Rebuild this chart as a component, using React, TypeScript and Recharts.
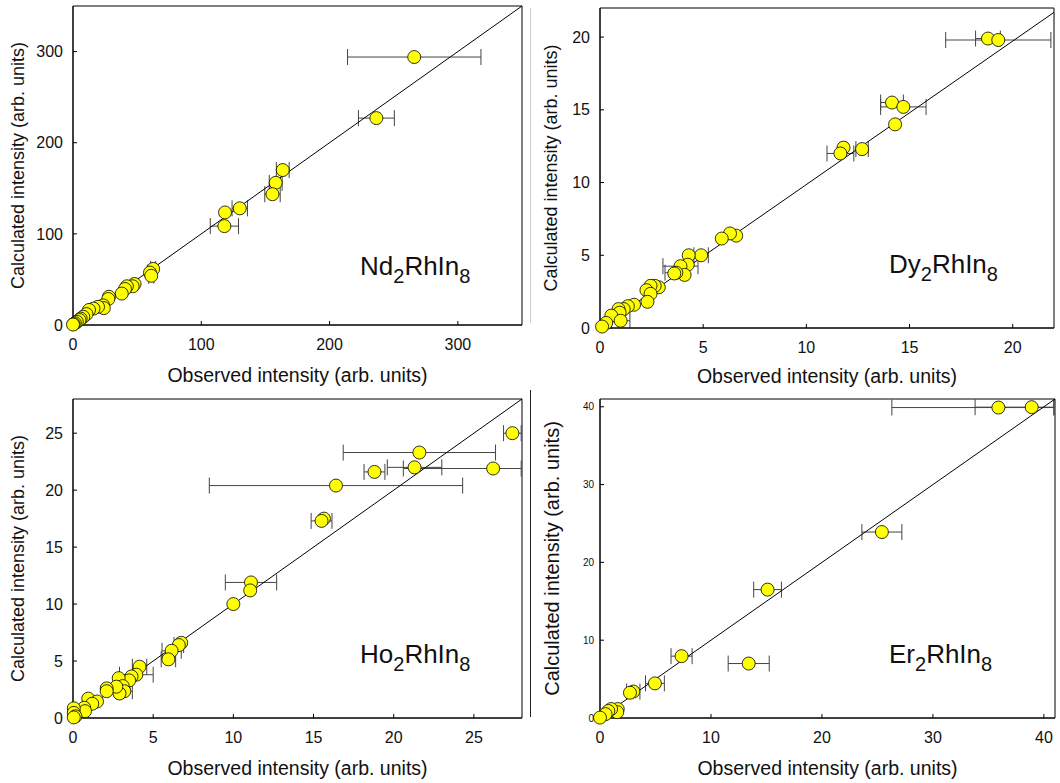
import { ScatterChart, Scatter, XAxis, YAxis, ErrorBar, ReferenceLine, ReferenceArea } from 'recharts'

const FONT = '"Liberation Sans", Arial, Helvetica, sans-serif'

// Nd2RhIn8 : observed, calculated, error on observed
const ndObs = [266, 236.5, 163.5, 158, 155.5, 130, 118.5, 118, 62.5, 60, 61, 48, 46.5, 42, 40.5, 38, 28, 27.5, 23.5, 24, 19.5, 16, 12.5, 10.5, 8, 6, 5, 3, 1.5, 0.5, 0]
const ndCalc = [294, 227, 170, 156, 143.5, 128, 123.5, 108.5, 61.5, 57.5, 54, 45, 42.5, 42.5, 39.5, 34.5, 31, 28.5, 21.5, 18.5, 20, 18, 16.5, 12, 9, 7, 5.5, 3.5, 2, 1, 0.5]
const ndErr: (number | number[])[] = [52, 14, 5, 5, 6, 6, 0, 11, 2, 2, 2, 0, 0, 0, 0, 0, 0, 0, 0, 0, 0, 0, 0, 0, 0, 0, 0, 0, 0, 0, 0]

// Dy2RhIn8
const dyObs = [18.8, 19.3, 14.15, 14.7, 14.3, 11.8, 11.65, 12.7, 6.6, 6.3, 5.9, 4.9, 4.3, 4.25, 3.9, 4.1, 3.7, 3.6, 2.85, 2.65, 2.45, 2.25, 2.45, 2.3, 1.65, 1.35, 1.15, 0.9, 0.95, 0.55, 1.0, 0.3, 0.1]
const dyCalc = [19.9, 19.8, 15.5, 15.2, 14.0, 12.4, 12.0, 12.3, 6.35, 6.5, 6.15, 5.0, 5.0, 4.35, 4.25, 3.65, 3.8, 3.75, 2.8, 2.9, 2.9, 2.6, 2.35, 1.8, 1.6, 1.5, 1.3, 1.3, 1.05, 0.85, 0.5, 0.35, 0.1]
const dyErr: (number | number[])[] = [0.6, 2.55, 0.55, 1.1, 0, 0, 0.65, 0.3, 0, 0, 0, 0.35, 0, 0, 0.85, 0, 0.55, 0, 0, 0, 0, 0, 0, 0, 0, 0, 0, 0, 0, 0, 0.45, 0, 0]

// Ho2RhIn8
const hoObs = [27.4, 21.6, 18.8, 21.3, 26.2, 16.4, 15.65, 15.5, 11.1, 11.05, 10.0, 6.75, 6.6, 6.15, 5.95, 4.15, 3.95, 3.65, 3.5, 2.85, 3.1, 3.2, 2.9, 2.7, 2.1, 2.1, 0.95, 1.5, 1.2, 0.7, 0.75, 0.05, 0.05, 0.15, 0.05]
const hoCalc = [25.0, 23.3, 21.6, 22.0, 21.9, 20.4, 17.5, 17.3, 11.9, 11.2, 10.0, 6.6, 6.4, 5.9, 5.15, 4.5, 3.8, 3.65, 3.3, 3.5, 2.8, 2.35, 2.15, 2.75, 2.6, 2.35, 1.7, 1.45, 1.25, 0.9, 0.6, 0.85, 0.45, 0.15, 0.05]
const hoErr: (number | number[])[] = [0.55, 4.75, 0.65, 1.7, [5.6, 1.75], 7.9, 0, 0.65, 1.6, 0, 0, 0, 0.3, 0.6, 0.45, 0.45, 1.05, 0, 0, 0, 0.45, 0.5, 0, 0, 0, 0, 0, 0, 0, 0, 0, 0, 0, 0, 0]

// Er2RhIn8
const erObs = [35.9, 38.9, 25.4, 15.1, 13.4, 7.35, 4.95, 3.0, 2.7, 1.6, 1.55, 1.0, 0.75, 0.5, 0]
const erCalc = [39.9, 39.95, 23.9, 16.5, 7.0, 7.95, 4.45, 3.4, 3.25, 1.15, 0.75, 1.15, 0.9, 0.5, 0.05]
const erErr: (number | number[])[] = [[9.6, 5.0], [5.1, 2.0], 1.8, 1.25, 1.85, 0.95, 0.85, 0.6, 0, 0, 0, 0, 0, 0, 0]

type Pt = { x: number; y: number; e: number | number[] }

const toPoints = (obs: number[], calc: number[], err: (number | number[])[]): Pt[] =>
  obs.map((x, i) => ({ x, y: calc[i], e: err[i] }))

const hasErr = (p: Pt) => (Array.isArray(p.e) ? p.e[0] + p.e[1] : p.e) > 0

const dot = (p: any) => <circle cx={p.cx} cy={p.cy} r={6.5} fill="#ffff00" stroke="#000" strokeWidth={0.8} />
const none = () => <g />

function Panel(props: {
  data: Pt[]
  max: number
  ticks: number[]
  lineEnd: number
  left: number
  top: number
  height: number
  margin: { top: number; right: number; left: number; bottom: number }
  yWidth: number
  xHeight: number
  xTitleOffset: number
  yTitleOffset: number
  yTitleSize: number
  yTickSize: number
  yTickMargin: number
}) {
  const p = props
  const bars = p.data.filter(hasErr)
  return (
    <div style={{ position: 'absolute', left: p.left, top: p.top }}>
      <ScatterChart width={530} height={p.height} margin={p.margin} style={{ fontFamily: FONT }}>
        <XAxis
          type="number"
          dataKey="x"
          domain={[0, p.max]}
          ticks={p.ticks}
          height={p.xHeight}
          tickSize={-4}
          tickMargin={18}
          stroke="#000"
          tick={{ fill: '#111', fontSize: 16 }}
          label={{ value: 'Observed intensity (arb. units)', position: 'insideBottom', offset: p.xTitleOffset, style: { fontSize: 19.5, fill: '#111' } }}
        />
        <YAxis
          type="number"
          dataKey="y"
          domain={[0, p.max]}
          ticks={p.ticks}
          width={p.yWidth}
          tickSize={-4}
          tickMargin={p.yTickMargin}
          stroke="#000"
          tick={{ fill: '#111', fontSize: p.yTickSize }}
          label={{ value: 'Calculated intensity (arb. units)', angle: -90, position: 'insideLeft', offset: p.yTitleOffset, style: { fontSize: p.yTitleSize, fill: '#111', textAnchor: 'middle' } }}
        />
        <XAxis xAxisId="top" orientation="top" type="number" domain={[0, p.max]} allowDataOverflow ticks={p.ticks} height={0} tickSize={-4} tick={false} stroke="#000" />
        <YAxis yAxisId="right" orientation="right" type="number" domain={[0, p.max]} allowDataOverflow ticks={p.ticks} width={0} tickSize={-4} tick={false} stroke="#000" />
        <ReferenceArea x1={0} x2={p.max} y1={0} y2={p.max} fill="none" fillOpacity={0} stroke="#000" strokeWidth={1} />
        <Scatter data={bars} shape={none} isAnimationActive={false}>
          <ErrorBar dataKey="e" direction="x" width={8} stroke="#444" strokeWidth={1} />
        </Scatter>
        <Scatter data={p.data} shape={dot} isAnimationActive={false} />
        <ReferenceLine segment={[{ x: 0, y: 0 }, { x: p.max, y: p.lineEnd }]} stroke="#000" strokeWidth={1} />
      </ScatterChart>
    </div>
  )
}

function Compound(props: { x: number; y: number; a: string }) {
  return (
    <text x={props.x} y={props.y} fontSize={26} fill="#111" fontFamily={FONT}>
      {props.a}
      <tspan fontSize={20} dy={8}>2</tspan>
      <tspan dy={-8}>RhIn</tspan>
      <tspan fontSize={20} dy={8}>8</tspan>
    </text>
  )
}

export default function App() {
  return (
    <div style={{ position: 'absolute', left: 0, top: 0, width: 1060, height: 783, background: '#fff', overflow: 'hidden' }}>
      <Panel
        data={toPoints(ndObs, ndCalc, ndErr)}
        max={350}
        ticks={[0, 100, 200, 300]}
        lineEnd={350}
        left={0}
        top={0}
        height={390}
        margin={{ top: 6, right: 8, left: 0, bottom: 0 }}
        yWidth={73}
        xHeight={65}
        xTitleOffset={8}
        yTitleOffset={18}
        yTitleSize={18}
        yTickSize={16}
        yTickMargin={14}
      />
      <Panel
        data={toPoints(dyObs, dyCalc, dyErr)}
        max={22}
        ticks={[0, 5, 10, 15, 20]}
        lineEnd={21.7}
        left={530}
        top={0}
        height={390}
        margin={{ top: 8, right: 6, left: 0, bottom: 0 }}
        yWidth={70}
        xHeight={62}
        xTitleOffset={7}
        yTitleOffset={21}
        yTitleSize={18}
        yTickSize={16}
        yTickMargin={14}
      />
      <Panel
        data={toPoints(hoObs, hoCalc, hoErr)}
        max={28}
        ticks={[0, 5, 10, 15, 20, 25]}
        lineEnd={28}
        left={0}
        top={390}
        height={393}
        margin={{ top: 9, right: 8, left: 0, bottom: 0 }}
        yWidth={73}
        xHeight={65}
        xTitleOffset={8}
        yTitleOffset={18}
        yTitleSize={18}
        yTickSize={16}
        yTickMargin={14}
      />
      <Panel
        data={toPoints(erObs, erCalc, erErr)}
        max={41}
        ticks={[0, 10, 20, 30, 40]}
        lineEnd={41}
        left={530}
        top={390}
        height={393}
        margin={{ top: 9, right: 5, left: 0, bottom: 0 }}
        yWidth={70}
        xHeight={65}
        xTitleOffset={8}
        yTitleOffset={22}
        yTitleSize={20}
        yTickSize={10}
        yTickMargin={10}
      />
      <div style={{ position: 'absolute', left: 530, top: 8, width: 1, height: 315, background: '#ccc' }} />
      <div style={{ position: 'absolute', left: 530, top: 390, width: 1, height: 327, background: '#222' }} />
      <svg width={1060} height={783} style={{ position: 'absolute', left: 0, top: 0, pointerEvents: 'none' }}>
        <Compound x={360} y={275} a="Nd" />
        <Compound x={889} y={273} a="Dy" />
        <Compound x={360} y={663} a="Ho" />
        <Compound x={889} y={663} a="Er" />
      </svg>
    </div>
  )
}
